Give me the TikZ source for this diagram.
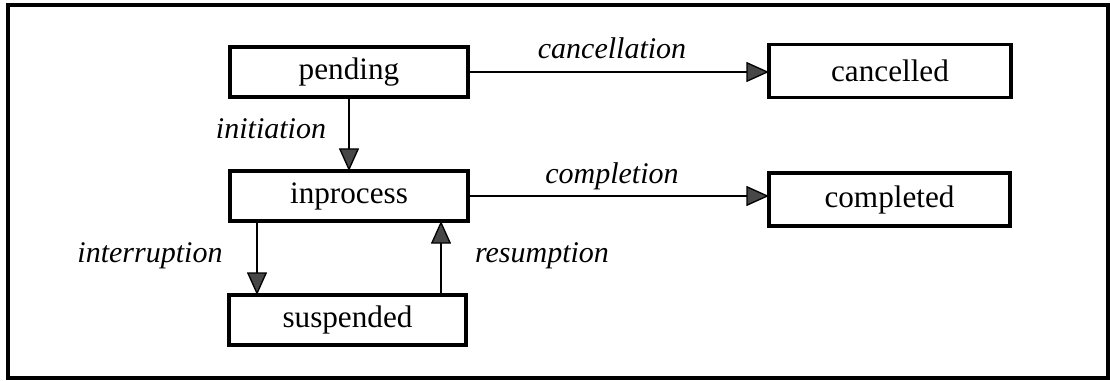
\documentclass[tikz,border=0pt]{standalone}
\usepackage{fontspec}
\setmainfont{Liberation Serif}
\usetikzlibrary{arrows.meta,calc}
\begin{document}
\begin{tikzpicture}[x=0.75pt,y=-0.75pt,
  state/.style={draw,line width=2.4pt,minimum height=37.5pt,inner sep=0pt,outer sep=0pt,
    font=\fontsize{23.4}{28}\selectfont},
  lbl/.style={font=\fontsize{22.5}{27}\selectfont\itshape,inner sep=0pt},
  arr/.style={line width=1.9pt,-{Triangle[length=17pt,width=15pt,fill=black!72,line width=1pt]}}]
\useasboundingbox (0,0) rectangle (1110,381);
% outer frame
\draw[line width=2.4pt] (8,5) rectangle (1108,378);

% states
\node[state,minimum width=178.5pt] (pending)   at (349,72)   {pending};
\node[state,minimum width=178.5pt] (inprocess) at (349,196)  {inprocess};
\node[state,minimum width=177.75pt] (suspended) at (347.5,320) {suspended};
\node[state,minimum width=181.5pt,minimum height=40pt] (cancelled) at (890,71) {cancelled};
\node[state,minimum width=180.75pt,minimum height=39.75pt] (completed) at (889.5,199.5) {completed};

% transitions
\draw[arr] (pending.south) -- (inprocess.north);
\draw[arr] (pending.east) -- (pending.east -| cancelled.west);
\draw[arr] (inprocess.east) -- (inprocess.east -| completed.west);
\coordinate (intrtop) at ($(inprocess.south west)+(27,0)$);
\draw[arr] (intrtop) -- (intrtop |- suspended.north);
\coordinate (resbot) at ($(suspended.north east)+(-25,0)$);
\draw[arr] (resbot) -- (resbot |- inprocess.south);

% transition labels
\node[lbl] (lcancel) at (612,48)  {cancellation};
\node[lbl] (lcomplete) at (612,176) {completion};
\node[lbl] (linit) at (271,129)   {initiation};
\node[lbl] (lintr) at (150,256)   {interruption};
\node[lbl] (lres) at (542,256)    {resumption};
\end{tikzpicture}
\end{document}
